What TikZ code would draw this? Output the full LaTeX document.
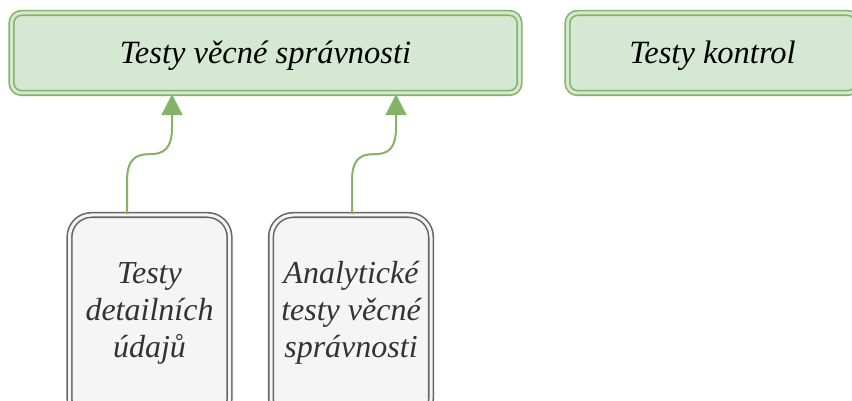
\documentclass[tikz,border=0pt]{standalone}
\usepackage{fontspec}
\setmainfont{Liberation Serif}
\usetikzlibrary{arrows.meta}
\definecolor{gfill}{HTML}{D5E8D4}
\definecolor{gline}{HTML}{82B366}
\definecolor{sfill}{HTML}{F5F5F5}
\definecolor{sline}{HTML}{666666}
\definecolor{stext}{HTML}{333333}
\tikzset{
  topbox/.style={rectangle, rounded corners=10pt, draw=gline, double=gfill, line width=1.6pt, double distance=3pt, fill=gfill, inner sep=0pt},
  toptext/.style={font=\fontsize{32.5}{38}\selectfont\itshape},
  subbox/.style={rectangle, rounded corners=22pt, draw=sline, double=sfill, line width=1.6pt, double distance=3pt, fill=sfill, inner sep=0pt},
  subtext/.style={align=center, text=stext, font=\fontsize{32}{37}\selectfont\itshape},
  link/.style={draw=gline, line width=2pt, -{Triangle[width=21pt,length=21pt]}}
}
\begin{document}
\begin{tikzpicture}[x=1pt,y=-1pt]
\useasboundingbox (0,0) rectangle (852,401);
\clip (0,0) rectangle (852,401);
\node[topbox, minimum width=508pt, minimum height=80pt] (b1) at (265.5,53) {};
\node[toptext] (t1) at (265.5,56) {Testy věcné správnosti};
\node[topbox, minimum width=290pt, minimum height=80pt] (b2) at (712.5,53) {};
\node[toptext] (t2) at (712.5,56) {Testy kontrol};
\node[subbox, minimum width=160pt, minimum height=206pt] (b3) at (149.5,318) {};
\node[subbox, minimum width=160pt, minimum height=206pt] (b4) at (351,318) {};
\node[subtext] (t3) at (149.5,313) {Testy\\detailních\\údajů};
\node[subtext] (t4) at (351,313) {Analytické\\testy věcné\\správnosti};
\draw[link] ([xshift=-22.5pt]b3.north) -- ++(0,-33)
  .. controls +(0,-22) and +(-14,0) .. ++(22.5,-27)
  .. controls +(14,0) and +(0,22) .. ++(22.5,-27) -- ++(0,-33);
\draw[link] ([xshift=1pt]b4.north) -- ++(0,-33)
  .. controls +(0,-22) and +(-14,0) .. ++(22,-27)
  .. controls +(14,0) and +(0,22) .. ++(22,-27) -- ++(0,-33);
\end{tikzpicture}
\end{document}
